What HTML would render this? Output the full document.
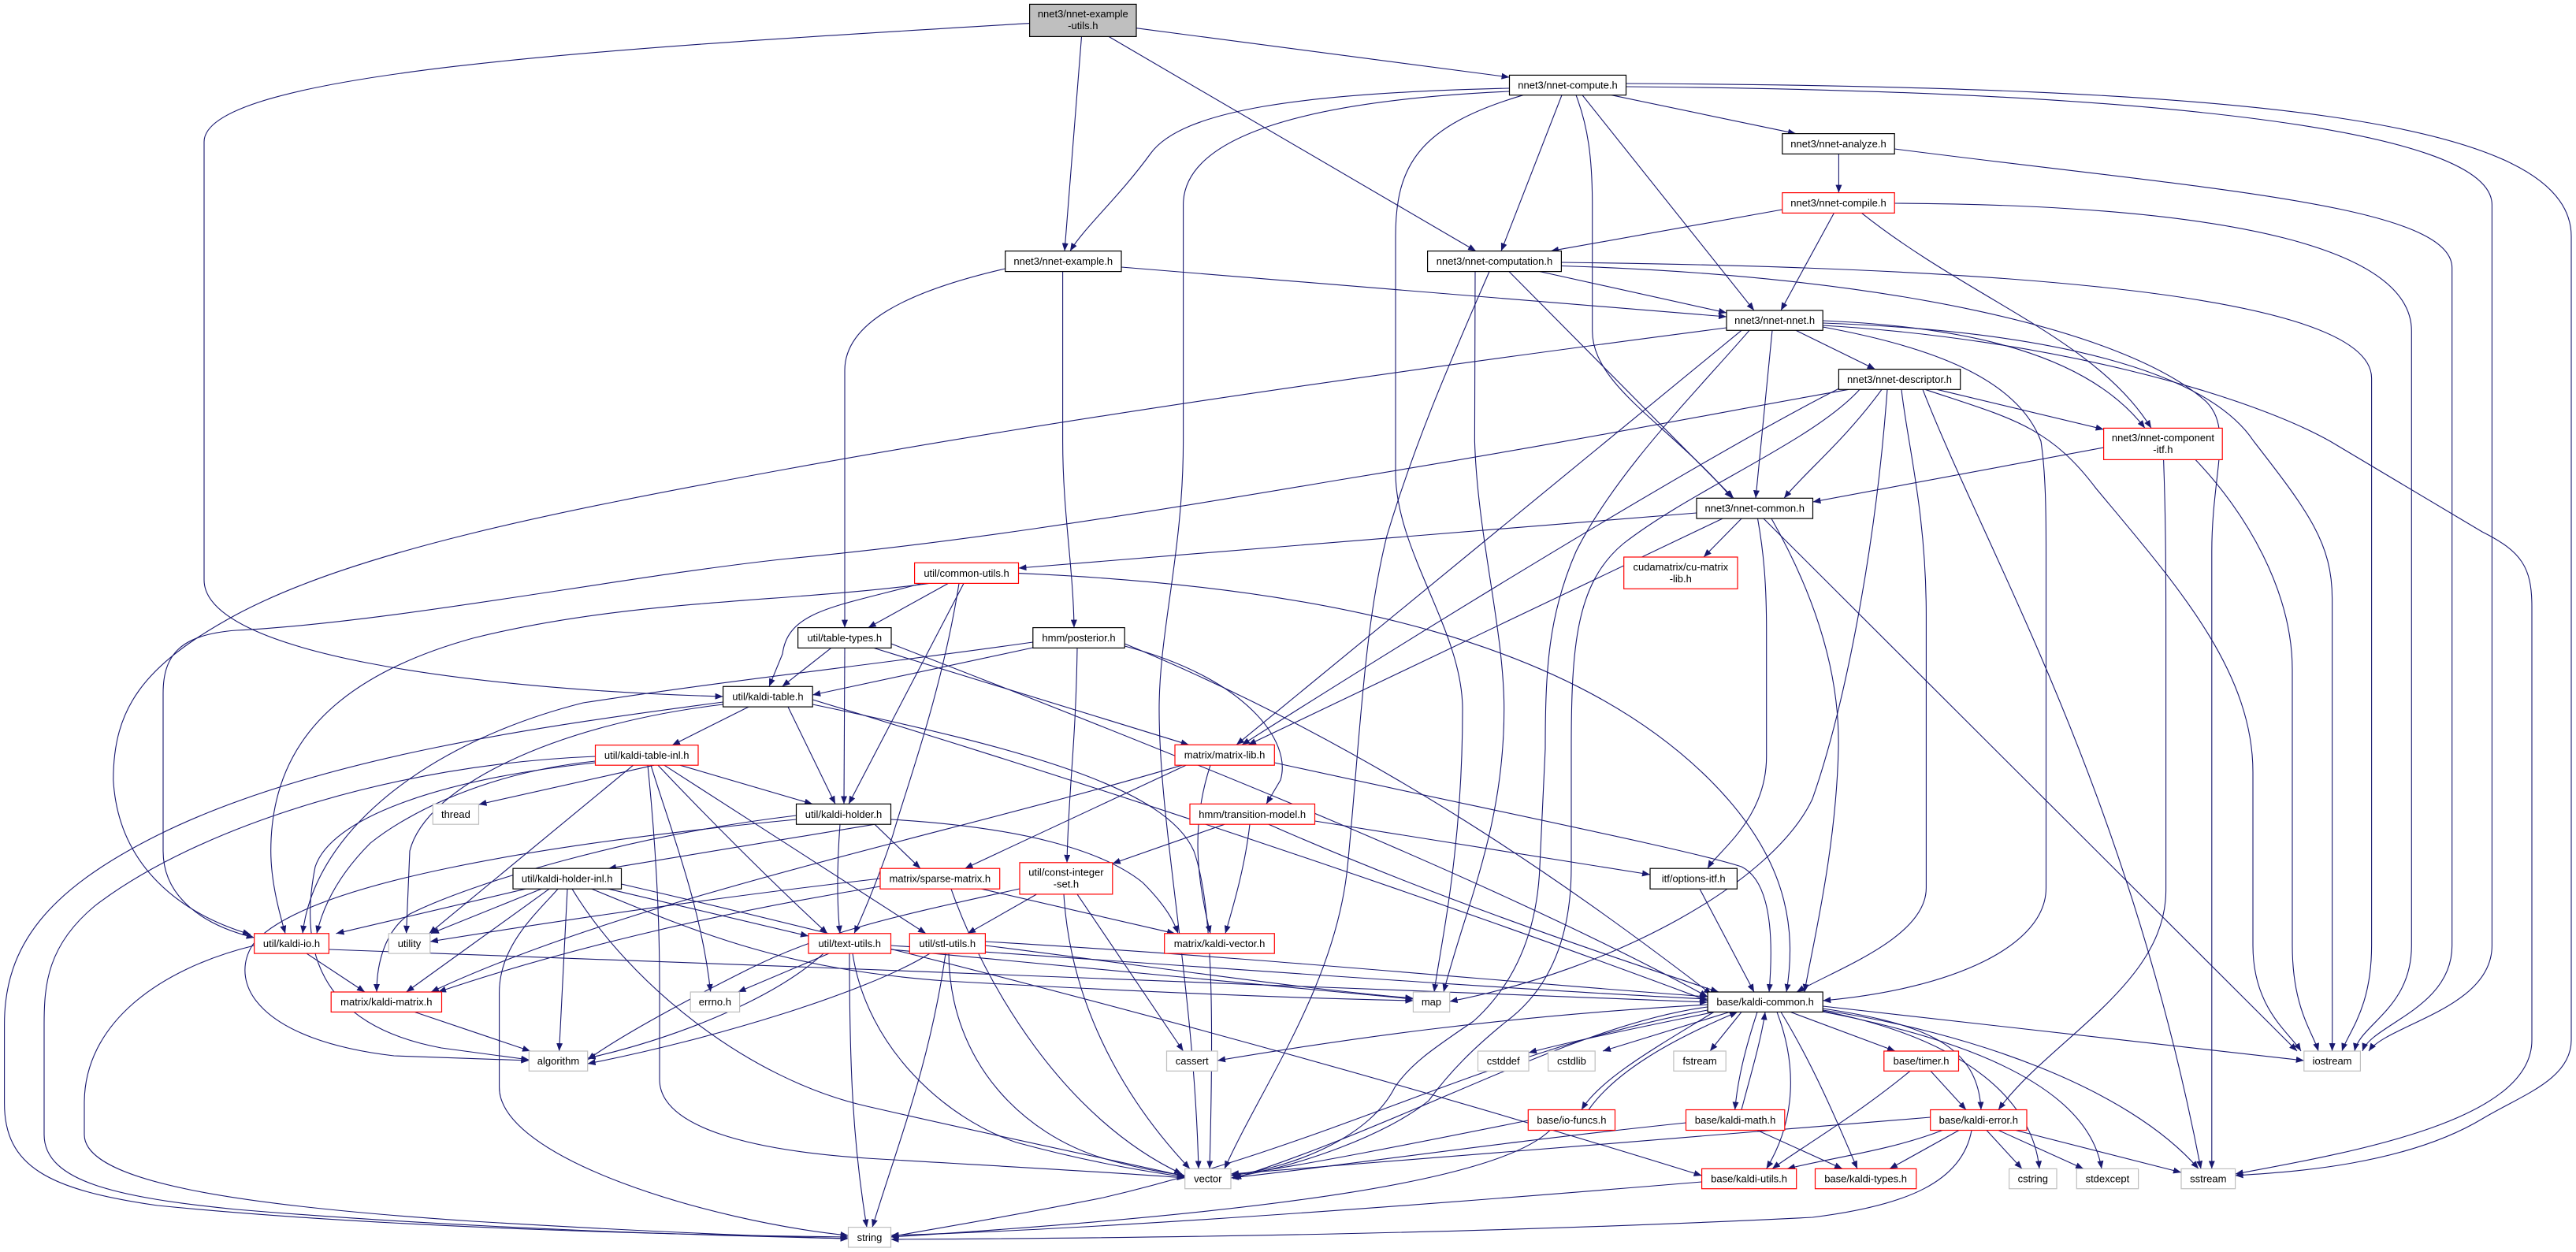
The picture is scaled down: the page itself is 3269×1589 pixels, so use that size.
<!DOCTYPE html>
<html><head><meta charset="utf-8"><style>
html,body{margin:0;padding:0;background:#fff;}
svg{display:block;}
text{font-family:"Liberation Sans",Arial,sans-serif;font-size:13px;fill:#000;}
.e{fill:none;stroke:#191970;stroke-width:1.1;marker-end:url(#ah);}
.nb{fill:#fff;stroke:#000;stroke-width:1.2;}
.nr{fill:#fff;stroke:#ff0000;stroke-width:1.2;}
.ng{fill:#fff;stroke:#bfbfbf;stroke-width:1.2;}
</style></head><body>
<svg width="3269" height="1589" viewBox="0 0 3269 1589" xmlns="http://www.w3.org/2000/svg">
<defs><marker id="ah" markerUnits="userSpaceOnUse" markerWidth="10" markerHeight="8" refX="10" refY="4" orient="auto" viewBox="0 0 10 8"><path d="M0,0 L10,4 L0,8 Z" fill="#191970"/></marker></defs>
<g>
<path class="e" d="M1442,35.7 L1915.5,98"/>
<path class="e" d="M1372.5,46.4 L1351,318.6"/>
<path class="e" d="M1407,46.4 L1873,318.6"/>
<path class="e" d="M1306.6,29.6 C800,60 259,90 259,180 L259,736 C259,830 600,875 917.6,884"/>
<path class="e" d="M1915.5,112 C1650,118 1500,140 1460,195 C1420,250 1375,290 1358,318.6"/>
<path class="e" d="M1916,116 C1650,128 1501.6,175 1501.6,260 L1501.6,560 C1501.6,700 1471,800 1471,900 C1471,1050 1515,1250 1521,1483.4"/>
<path class="e" d="M1933,120.7 C1800,160 1771,210 1771,300 L1771,600 C1771,700 1856,800 1856,900 C1856,1080 1828,1200 1820,1259"/>
<path class="e" d="M1982,120.7 L1905,318.6"/>
<path class="e" d="M2000,120.7 C2015,160 2020.7,200 2020.7,260 L2020.7,420 C2020.7,490 2120,540 2198,632.3"/>
<path class="e" d="M2008,120.7 L2226,394"/>
<path class="e" d="M2045,120.7 L2279,169.6"/>
<path class="e" d="M2063.5,110 C2700,115 3162.4,160 3162.4,260 L3162.4,1200 C3162.4,1280 3030,1300 3006,1334"/>
<path class="e" d="M2063.5,106 C2850,110 3263,150 3263,300 L3263,1320 C3263,1370 3200,1390 3150,1420 C3050,1480 2900,1488 2836.6,1492"/>
<path class="e" d="M2333.4,195.4 L2333.4,244.6"/>
<path class="e" d="M2404.2,189 C2800,240 3111.7,260 3111.7,340 L3111.7,1200 C3111.7,1280 3010,1300 2998,1334"/>
<path class="e" d="M2404.2,258 C2850,260 3060.3,320 3060.3,420 L3060.3,1200 C3060.3,1280 2995,1300 2988,1334"/>
<path class="e" d="M2327.4,270.4 L2260,394"/>
<path class="e" d="M2362.5,270.4 C2500,380 2660,430 2730,543.4"/>
<path class="e" d="M2261.8,266 L1968,318.6"/>
<path class="e" d="M1423,339 L2191,402"/>
<path class="e" d="M1348.6,344.6 L1348.6,560 C1348.6,650 1362,720 1363,796.6"/>
<path class="e" d="M1275.7,341 C1150,370 1072,410 1072,470 L1072,796.6"/>
<path class="e" d="M1954,344.6 L2191,397"/>
<path class="e" d="M1981.4,333 C2600,340 3009.6,380 3009.6,480 L3009.6,1200 C3009.6,1280 2980,1310 2972,1334"/>
<path class="e" d="M1981.4,337.5 C2400,350 2700,420 2800,510 C2834,545 2806.8,600 2806.8,700 L2806.8,1483.4"/>
<path class="e" d="M1915,344.6 L2200,632.3"/>
<path class="e" d="M1890,344.6 C1840,460 1796,560 1760,680 C1730,800 1725,950 1710,1100 C1695,1250 1600,1380 1554,1483.4"/>
<path class="e" d="M1872,344.6 L1871.4,560 C1875,680 1908.7,800 1908.7,900 C1908.7,1050 1860,1150 1832,1259"/>
<path class="e" d="M2191,416 C1700,480 1300,540 1000,595 C700,650 450,700 300,780 C180,845 143.8,900 143.8,990 C150,1100 230,1160 318,1186"/>
<path class="e" d="M2279,419.3 L2379.6,468.6"/>
<path class="e" d="M2249,419.3 L2228,632.3"/>
<path class="e" d="M2313.2,415 C2450,440 2560,480 2590,560 C2596,600 2596.5,650 2596.5,700 L2596.5,1127 C2596.5,1200 2480,1255 2313.2,1270"/>
<path class="e" d="M2210,419.3 L1569,945.3"/>
<path class="e" d="M2313.2,407 C2500,415 2650,450 2722,543.4"/>
<path class="e" d="M2313.2,410 C2600,420 2800,470 2860,560 C2930,650 2959.6,690 2959.6,760 L2959.6,1200 C2959.6,1280 2960,1310 2959.5,1334"/>
<path class="e" d="M2313.2,413 C2600,430 2850,500 2957,560 L3150,675 C3200,700 3213,720 3213,770 L3213,1320 C3213,1420 3000,1460 2836.6,1490"/>
<path class="e" d="M2220,419.3 C2150,500 2050,600 2000,700 C1965,780 1961,850 1961,950 L1954,1100 C1950,1200 1910,1260 1870,1296 C1820,1330 1790,1350 1770,1380 C1740,1440 1650,1480 1562,1492"/>
<path class="e" d="M2458,494.3 L2669.6,545"/>
<path class="e" d="M2388,494.3 C2340,560 2290,600 2264,632.3"/>
<path class="e" d="M2413,494.3 C2420,560 2444.4,650 2444.4,780 L2444.4,1127 C2444.4,1190 2330,1230 2280,1259"/>
<path class="e" d="M2443,494.3 C2550,530 2600,540 2660,620 C2760,740 2859,850 2859,980 L2859,1200 C2859,1280 2905,1310 2920,1334"/>
<path class="e" d="M2440,494.3 C2520,700 2700,1000 2793,1483.4"/>
<path class="e" d="M2346,494.3 C2200,520 2000,560 1700,609 C1400,660 1200,690 1000,709 C800,730 500,790 300,800 C230,805 207,830 207,880 L207,1080 C207,1140 260,1175 322.7,1190"/>
<path class="e" d="M2360,494.3 C2300,560 2150,620 2060,690 C2000,740 1994,820 1994,950 L1994,1100 C1994,1200 1960,1260 1912,1296 C1870,1330 1840,1360 1813,1397 C1760,1440 1650,1480 1565,1494"/>
<path class="e" d="M2340,490 C2200,560 1900,740 1576,945.3"/>
<path class="e" d="M2395,494.3 C2380,700 2340,900 2300,1014 C2250,1120 2050,1230 1839.7,1271"/>
<path class="e" d="M2669.6,568 L2300.5,637"/>
<path class="e" d="M2745.6,583.4 C2748,650 2748.6,700 2748.6,800 L2748.6,1130 C2748.6,1250 2600,1320 2536,1408.5"/>
<path class="e" d="M2786,583.4 C2850,650 2909,750 2909,850 L2909,1200 C2909,1280 2935,1310 2942,1334"/>
<path class="e" d="M2153,651 L1292.5,721"/>
<path class="e" d="M2210,658.1 L2162,707"/>
<path class="e" d="M2186,658.1 L1584,945.3"/>
<path class="e" d="M2230.5,658.1 C2238,700 2241.7,740 2241.7,800 L2241.7,960 C2241.7,1040 2180,1080 2167,1102.2"/>
<path class="e" d="M2238,658.1 L2915,1334"/>
<path class="e" d="M2248,658.1 C2300,750 2335,850 2333,950 C2330,1080 2300,1200 2290,1259"/>
<path class="e" d="M1203.4,740.4 L1101.7,796.6"/>
<path class="e" d="M1170,740.4 C1060,770 1000,775 993,830 L976,871.3"/>
<path class="e" d="M1223,740.4 L1077,1020.4"/>
<path class="e" d="M1217,740.4 C1195,880 1150,1000 1133,1060 C1120,1100 1100,1150 1084,1184.8"/>
<path class="e" d="M1179,740.4 C1000,765 800,760 600,810 C420,860 343.7,950 343.7,1080 C343.7,1120 355,1160 362,1184.8"/>
<path class="e" d="M1292.5,727.6 C1700,745 2000,820 2170,990 C2270,1090 2280,1180 2267,1259"/>
<path class="e" d="M1310.8,822 L1031.2,882"/>
<path class="e" d="M1367,822.4 C1365,950 1356,1000 1354,1094.8"/>
<path class="e" d="M1427.2,820 C1580,860 1640,940 1625,990 L1607,1020.4"/>
<path class="e" d="M1427.2,817 C1750,950 2000,1130 2172,1262"/>
<path class="e" d="M1310.8,815 C1100,845 950,860 740,892 C550,940 400,1050 384,1184.8"/>
<path class="e" d="M1054.7,822.4 L992.6,871.3"/>
<path class="e" d="M1072,822.4 L1071,1020.4"/>
<path class="e" d="M1108.7,822.4 L1508.6,945.3"/>
<path class="e" d="M1131,817 C1500,960 1900,1120 2167,1265"/>
<path class="e" d="M950,897.1 L853,945.7"/>
<path class="e" d="M1000,897.1 L1060,1020.4"/>
<path class="e" d="M1031.2,888 C1500,1030 1900,1170 2167,1270"/>
<path class="e" d="M1031.2,894 C1300,950 1480,1000 1515,1080 C1540,1150 1540,1300 1535,1483.4"/>
<path class="e" d="M917.6,894 C700,920 540,1000 520,1080 L515.6,1184.8"/>
<path class="e" d="M917.6,891 C700,920 400,960 200,1060 C60,1130 5.6,1200 5.6,1300 L5.6,1400 C5.6,1480 60,1510 200,1530 C500,1560 900,1568 1076.5,1570"/>
<path class="e" d="M830,971.2 L607.5,1021"/>
<path class="e" d="M803.6,971.2 L544.6,1184.8"/>
<path class="e" d="M822,971.2 C830,1050 837,1150 837,1250 L837,1370 C837,1430 950,1460 1100,1470 C1300,1482 1450,1490 1503.7,1495"/>
<path class="e" d="M826,971.2 C850,1050 890,1150 901.7,1259"/>
<path class="e" d="M863,971.2 L1031,1020.4"/>
<path class="e" d="M835,971.2 C900,1040 980,1120 1050,1184.8"/>
<path class="e" d="M843,971.2 L1175,1184.8"/>
<path class="e" d="M755.5,960 C500,970 250,1050 120,1150 C60,1200 56,1250 56,1300 L56,1440 C56,1500 150,1520 300,1535 C600,1560 900,1568 1076.5,1572"/>
<path class="e" d="M755.5,966 C620,980 520,1030 470,1070 C430,1110 410,1150 402,1184.8"/>
<path class="e" d="M755.5,968 C550,990 420,1040 400,1100 C380,1200 400,1300 560,1330 L671.3,1345"/>
<path class="e" d="M1110,1046.2 L772,1102.2"/>
<path class="e" d="M1110,1046.2 L1168,1102.2"/>
<path class="e" d="M1066,1046.2 C1062,1100 1062,1150 1066,1184.8"/>
<path class="e" d="M1130.5,1040 C1300,1050 1400,1080 1450,1120 C1480,1150 1490,1170 1495,1184.8"/>
<path class="e" d="M1010.5,1035 C800,1060 600,1120 520,1160 C490,1180 478,1220 478,1259"/>
<path class="e" d="M1010.5,1040 C700,1070 380,1120 320,1200 C290,1250 330,1320 500,1340 L671.3,1346"/>
<path class="e" d="M667,1128.2 L426.5,1184.8"/>
<path class="e" d="M687,1128.2 L547,1184.8"/>
<path class="e" d="M697,1128.2 L515.6,1259"/>
<path class="e" d="M708,1128.2 C680,1160 633.6,1200 633.6,1260 L633.6,1380 C633.6,1470 900,1550 1076.5,1568"/>
<path class="e" d="M720,1128.2 L709.6,1334"/>
<path class="e" d="M726,1128.2 C800,1250 950,1370 1100,1404 C1300,1450 1450,1480 1503.7,1493"/>
<path class="e" d="M772,1128.2 L1026,1188"/>
<path class="e" d="M788.5,1122 C1300,1240 1800,1380 2159.6,1492"/>
<path class="e" d="M751,1128.2 C900,1190 1000,1230 1200,1245 C1500,1262 1700,1268 1793.4,1270"/>
<path class="e" d="M389,1210.1 L463,1259"/>
<path class="e" d="M322.7,1200 C200,1230 107,1300 107,1400 L107,1440 C107,1500 300,1530 600,1550 C850,1565 1000,1570 1076.5,1572"/>
<path class="e" d="M417.4,1205 C1000,1225 1700,1255 2167,1272"/>
<path class="e" d="M526,1284.4 L673,1334"/>
<path class="e" d="M1052,1210.1 L936.5,1259"/>
<path class="e" d="M1045,1210.1 C980,1270 850,1320 745.7,1343"/>
<path class="e" d="M1078,1210.1 C1078,1350 1082,1450 1100,1557.6"/>
<path class="e" d="M1082,1210.1 C1100,1330 1200,1420 1290,1450 C1400,1480 1480,1490 1503.7,1494"/>
<path class="e" d="M1130.5,1205 C1400,1230 1650,1255 1793.4,1268"/>
<path class="e" d="M1130.5,1200 C1500,1225 1900,1255 2167,1268"/>
<path class="e" d="M1180,1210.1 C1100,1260 900,1320 745.7,1350"/>
<path class="e" d="M1200,1210.1 C1180,1350 1140,1450 1107,1557.6"/>
<path class="e" d="M1204,1210.1 C1205,1350 1300,1440 1400,1470 C1450,1485 1490,1490 1503.7,1492"/>
<path class="e" d="M1250.4,1200 C1450,1225 1650,1255 1793.4,1267"/>
<path class="e" d="M1250.4,1195 C1600,1215 1950,1250 2167,1265"/>
<path class="e" d="M1117,1115 C900,1140 700,1170 545.8,1195"/>
<path class="e" d="M1117,1125 C900,1160 700,1210 556,1259"/>
<path class="e" d="M1245.5,1128.2 L1491,1184.8"/>
<path class="e" d="M1207,1128.2 C1250,1250 1350,1420 1500,1490"/>
<path class="e" d="M1315.7,1134.9 L1228,1184.8"/>
<path class="e" d="M1294,1128 C1150,1160 1050,1180 950,1230 C850,1280 780,1320 745.7,1345"/>
<path class="e" d="M1350,1134.9 C1360,1300 1450,1420 1510,1483.4"/>
<path class="e" d="M1367,1134.9 L1501.6,1334"/>
<path class="e" d="M1554,1046.2 L1411.8,1096"/>
<path class="e" d="M1586,1046.2 C1580,1100 1565,1150 1555,1184.8"/>
<path class="e" d="M1668.5,1042 L2094,1110"/>
<path class="e" d="M1610,1046.2 C1800,1130 2000,1200 2181,1259"/>
<path class="e" d="M1505,971.2 L1224.5,1102.2"/>
<path class="e" d="M1500,971.2 C1200,1060 800,1140 547,1259"/>
<path class="e" d="M1536,971.2 C1510,1050 1520,1120 1536,1184.8"/>
<path class="e" d="M1617.3,968 C1900,1030 2150,1080 2210,1100 C2250,1120 2250,1200 2245,1259"/>
<path class="e" d="M2157,1128.2 L2226,1259"/>
<path class="e" d="M2167,1275 C1900,1290 1700,1320 1545,1346"/>
<path class="e" d="M2175,1284.4 C2100,1300 2000,1320 1940,1336"/>
<path class="e" d="M2195,1284.4 L2034,1334"/>
<path class="e" d="M2210,1284.4 L2170,1334"/>
<path class="e" d="M2313.2,1277 L2923.8,1346"/>
<path class="e" d="M2313.2,1282 C2500,1310 2700,1380 2790,1483.4"/>
<path class="e" d="M2313,1280 C2450,1300 2510,1330 2514,1408.5"/>
<path class="e" d="M2272,1284.4 L2405,1334"/>
<path class="e" d="M2313,1283 C2500,1320 2580,1400 2588,1483.4"/>
<path class="e" d="M2313,1284 C2500,1320 2650,1380 2667,1483.4"/>
<path class="e" d="M2230,1284.4 C2215,1330 2205,1370 2201.7,1408.5"/>
<path class="e" d="M2210,1408.5 C2220,1370 2235,1320 2240,1284.4"/>
<path class="e" d="M2255,1284.4 C2280,1350 2280,1420 2241.6,1483.4"/>
<path class="e" d="M2260,1284.4 C2300,1350 2330,1420 2357,1483.4"/>
<path class="e" d="M2175,1284.4 C2100,1330 2030,1370 2007,1408.5"/>
<path class="e" d="M2016,1408.5 C2050,1360 2120,1320 2205,1284.4"/>
<path class="e" d="M2167,1278 C2000,1300 1800,1420 1565,1496"/>
<path class="e" d="M2167,1282 C1900,1330 1700,1450 1400,1520 C1250,1550 1150,1565 1130.5,1570"/>
<path class="e" d="M2139.5,1425 C1900,1450 1700,1480 1562,1495"/>
<path class="e" d="M2230,1434.5 L2338,1483.4"/>
<path class="e" d="M1939.3,1422 C1800,1450 1650,1480 1562,1492"/>
<path class="e" d="M1967,1434.5 C1900,1500 1600,1540 1130.5,1570"/>
<path class="e" d="M2424,1359.3 C2350,1420 2280,1460 2249,1483.4"/>
<path class="e" d="M2450,1359.3 L2495,1408.5"/>
<path class="e" d="M2465,1434.5 C2400,1460 2320,1470 2268,1483.4"/>
<path class="e" d="M2486,1434.5 L2398,1483.4"/>
<path class="e" d="M2521,1434.5 L2566,1483.4"/>
<path class="e" d="M2536,1434.5 L2644,1483.4"/>
<path class="e" d="M2558,1434.5 L2768,1488"/>
<path class="e" d="M2449.7,1418 C2200,1440 1800,1470 1562,1490"/>
<path class="e" d="M2502,1434.5 C2490,1500 2420,1530 2300,1545 C1800,1570 1300,1572 1130.5,1573"/>
<path class="e" d="M2159.6,1500 C1800,1530 1400,1560 1130.5,1568"/>
</g>
<g text-anchor="middle">
<rect x="1306.6" y="5.4" width="135.4" height="41" fill="#bfbfbf" stroke="#000" stroke-width="1.2"/>
<text x="1374.3" y="22">nnet3/nnet-example</text><text x="1374.3" y="37">-utils.h</text>
<rect class="nb" x="1915.5" y="95.4" width="148" height="25.3"/><text x="1989.5" y="112.5">nnet3/nnet-compute.h</text>
<rect class="nb" x="2261.8" y="169.6" width="142.4" height="25.8"/><text x="2333" y="187">nnet3/nnet-analyze.h</text>
<rect class="nr" x="2261.8" y="244.6" width="142.4" height="25.8"/><text x="2333" y="262">nnet3/nnet-compile.h</text>
<rect class="nb" x="1275.7" y="318.6" width="147.3" height="26"/><text x="1349.3" y="336">nnet3/nnet-example.h</text>
<rect class="nb" x="1811.6" y="318.6" width="169.8" height="26"/><text x="1896.5" y="336">nnet3/nnet-computation.h</text>
<rect class="nb" x="2191" y="394" width="122.2" height="25.3"/><text x="2252.1" y="411">nnet3/nnet-nnet.h</text>
<rect class="nb" x="2333.4" y="468.6" width="154.3" height="25.7"/><text x="2410.5" y="486">nnet3/nnet-descriptor.h</text>
<rect class="nr" x="2669.6" y="543.4" width="150.6" height="40"/><text x="2744.9" y="560">nnet3/nnet-component</text><text x="2744.9" y="575">-itf.h</text>
<rect class="nb" x="2153" y="632.3" width="147.5" height="25.8"/><text x="2226.7" y="649.7">nnet3/nnet-common.h</text>
<rect class="nr" x="2060.7" y="707" width="144.3" height="40.3"/><text x="2132.8" y="724">cudamatrix/cu-matrix</text><text x="2132.8" y="739">-lib.h</text>
<rect class="nr" x="1160.6" y="714.3" width="131.9" height="26.1"/><text x="1226.5" y="731.8">util/common-utils.h</text>
<rect class="nb" x="1012.6" y="796.6" width="118.4" height="25.8"/><text x="1071.8" y="814">util/table-types.h</text>
<rect class="nb" x="1310.8" y="796.6" width="116.4" height="25.8"/><text x="1369" y="814">hmm/posterior.h</text>
<rect class="nb" x="917.6" y="871.3" width="113.6" height="25.8"/><text x="974.4" y="888.7">util/kaldi-table.h</text>
<rect class="nr" x="755.5" y="945.7" width="130.5" height="25.5"/><text x="820.7" y="963">util/kaldi-table-inl.h</text>
<rect class="nr" x="1491" y="945.3" width="126.3" height="25.9"/><text x="1554.1" y="962.7">matrix/matrix-lib.h</text>
<rect class="ng" x="549.3" y="1020.4" width="58.2" height="25.8"/><text x="578.4" y="1037.8">thread</text>
<rect class="nb" x="1010.5" y="1020.4" width="120" height="25.8"/><text x="1070.5" y="1037.8">util/kaldi-holder.h</text>
<rect class="nr" x="1510" y="1020.4" width="158.5" height="25.8"/><text x="1589.2" y="1037.8">hmm/transition-model.h</text>
<rect class="nb" x="651" y="1102.2" width="137.5" height="26"/><text x="719.7" y="1119.7">util/kaldi-holder-inl.h</text>
<rect class="nr" x="1117" y="1102.2" width="151.7" height="26"/><text x="1192.8" y="1119.7">matrix/sparse-matrix.h</text>
<rect class="nr" x="1294" y="1094.8" width="117.8" height="40.1"/><text x="1352.9" y="1111.5">util/const-integer</text><text x="1352.9" y="1126.5">-set.h</text>
<rect class="nb" x="2094" y="1102.2" width="110.4" height="26"/><text x="2149.2" y="1119.7">itf/options-itf.h</text>
<rect class="nr" x="322.7" y="1184.8" width="94.7" height="25.3"/><text x="370" y="1202">util/kaldi-io.h</text>
<rect class="ng" x="493.2" y="1184.8" width="52.6" height="25.3"/><text x="519.5" y="1202">utility</text>
<rect class="nr" x="1026" y="1184.8" width="104.5" height="25.3"/><text x="1078.2" y="1202">util/text-utils.h</text>
<rect class="nr" x="1154.3" y="1184.8" width="96.1" height="25.3"/><text x="1202.3" y="1202">util/stl-utils.h</text>
<rect class="nr" x="1477.7" y="1184.8" width="139.6" height="25.3"/><text x="1547.5" y="1202">matrix/kaldi-vector.h</text>
<rect class="nr" x="420.2" y="1259" width="140.3" height="25.4"/><text x="490.3" y="1276.2">matrix/kaldi-matrix.h</text>
<rect class="ng" x="876.2" y="1259" width="62.4" height="25.4"/><text x="907.4" y="1276.2">errno.h</text>
<rect class="ng" x="1793.4" y="1259" width="46.3" height="25.4"/><text x="1816.5" y="1276.2">map</text>
<rect class="nb" x="2167.1" y="1259" width="146.1" height="25.4"/><text x="2240.1" y="1276.2">base/kaldi-common.h</text>
<rect class="ng" x="671.3" y="1334" width="74.4" height="25.3"/><text x="708.5" y="1351.2">algorithm</text>
<rect class="ng" x="1480.5" y="1334" width="64.5" height="25.3"/><text x="1512.7" y="1351.2">cassert</text>
<rect class="ng" x="1875.5" y="1334" width="64.5" height="25.3"/><text x="1907.7" y="1351.2">cstddef</text>
<rect class="ng" x="1964.6" y="1334" width="59.6" height="25.3"/><text x="1994.4" y="1351.2">cstdlib</text>
<rect class="ng" x="2123.9" y="1334" width="66.3" height="25.3"/><text x="2157" y="1351.2">fstream</text>
<rect class="nr" x="2390.8" y="1334" width="94.7" height="25.3"/><text x="2438.1" y="1351.2">base/timer.h</text>
<rect class="ng" x="2923.8" y="1334" width="71.6" height="25.3"/><text x="2959.6" y="1351.2">iostream</text>
<rect class="nr" x="1939.3" y="1408.5" width="110.2" height="26"/><text x="1994.4" y="1426">base/io-funcs.h</text>
<rect class="nr" x="2139.5" y="1408.5" width="125.3" height="26"/><text x="2202.1" y="1426">base/kaldi-math.h</text>
<rect class="nr" x="2449.7" y="1408.5" width="122.3" height="26"/><text x="2510.8" y="1426">base/kaldi-error.h</text>
<rect class="ng" x="1503.7" y="1483.4" width="58.3" height="25.3"/><text x="1532.8" y="1500.6">vector</text>
<rect class="nr" x="2159.6" y="1483.4" width="120.1" height="25.3"/><text x="2219.6" y="1500.6">base/kaldi-utils.h</text>
<rect class="nr" x="2303.5" y="1483.4" width="128.3" height="25.3"/><text x="2367.6" y="1500.6">base/kaldi-types.h</text>
<rect class="ng" x="2549.6" y="1483.4" width="60.4" height="25.3"/><text x="2579.8" y="1500.6">cstring</text>
<rect class="ng" x="2635.3" y="1483.4" width="78.3" height="25.3"/><text x="2674.4" y="1500.6">stdexcept</text>
<rect class="ng" x="2768" y="1483.4" width="68.6" height="25.3"/><text x="2802.3" y="1500.6">sstream</text>
<rect class="ng" x="1076.5" y="1557.6" width="54" height="25.4"/><text x="1103.5" y="1574.8">string</text>
</g>
</svg>
</body></html>
